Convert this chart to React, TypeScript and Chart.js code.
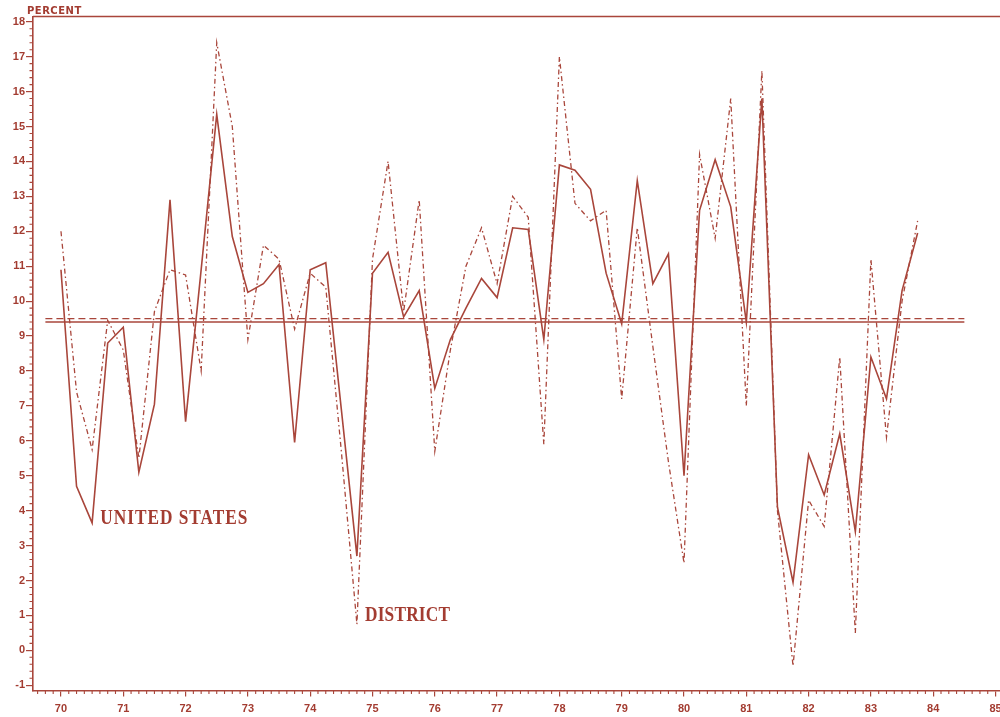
import React, { useEffect, useRef } from "react";
import { Chart, registerables } from "chart.js";

Chart.register(...registerables);

// ---- data -------------------------------------------------------------
const START_YEAR = 70; // first quarter of 1970
const QUARTERS_PER_YEAR = 4;
const YEAR_TICKS = [70, 71, 72, 73, 74, 75, 76, 77, 78, 79, 80, 81, 82, 83, 84, 85];
const Y_TICKS = [-1, 0, 1, 2, 3, 4, 5, 6, 7, 8, 9, 10, 11, 12, 13, 14, 15, 16, 17, 18];

const US_VALUES = [
  10.9, 4.7, 3.65, 8.8, 9.25, 5.1, 7.05, 12.9, 6.55, 10.9, 15.35, 11.85, 10.25, 10.5,
  11.05, 5.95, 10.9, 11.1, 6.9, 2.7, 10.8, 11.4, 9.55, 10.3, 7.5, 8.9, 9.8, 10.65,
  10.1, 12.1, 12.05, 8.9, 13.9, 13.75, 13.2, 10.8, 9.35, 13.45, 10.5, 11.35, 5.0, 12.6,
  14.05, 12.7, 9.4, 15.8, 4.1, 1.95, 5.6, 4.45, 6.2, 3.4, 8.4, 7.2, 10.3, 11.95,
];

const DISTRICT_VALUES = [
  12.0, 7.4, 5.75, 9.45, 8.6, 5.5, 9.7, 10.9, 10.75, 8.0, 17.4, 15.0, 8.9, 11.6,
  11.2, 9.2, 10.8, 10.4, 5.7, 0.75, 11.2, 14.0, 9.7, 12.9, 5.7, 8.6, 11.0, 12.1,
  10.5, 13.0, 12.4, 5.9, 17.0, 12.8, 12.3, 12.6, 7.2, 12.1, 8.7, 5.4, 2.5, 14.2,
  11.8, 15.8, 7.0, 16.6, 4.0, -0.45, 4.3, 3.55, 8.4, 0.5, 11.2, 6.1, 10.0, 12.3,
];

const US_MEAN = 9.4;
const DISTRICT_MEAN = 9.5;
const MEAN_FROM_QUARTER = -1;
const MEAN_TO_QUARTER = 58;

const Y_TITLE = "PERCENT";
const US_LABEL = "UNITED STATES";
const DISTRICT_LABEL = "DISTRICT";
// label anchors in data units (year, percent)
const US_LABEL_AT = { x: 70.63, y: 3.62 };
const DISTRICT_LABEL_AT = { x: 74.88, y: 0.84 };

// ---- style ------------------------------------------------------------
const LINE = "#a9463b";
const TEXT = "#a33c31";

const qx = (i: number) => START_YEAR + i / QUARTERS_PER_YEAR;

const decorPlugin = {
  id: "decor",
  afterDraw(chart: any) {
    const { ctx, chartArea: a } = chart;
    const xs = chart.scales.x;
    const ys = chart.scales.y;
    ctx.save();
    ctx.strokeStyle = LINE;
    ctx.lineWidth = 1.4;
    ctx.beginPath();
    // top frame line
    ctx.moveTo(a.left, a.top);
    ctx.lineTo(a.right + 40, a.top);
    ctx.stroke();

    ctx.lineWidth = 1.1;
    ctx.beginPath();
    // minor y ticks every 0.2
    for (let k = -5; k <= 90; k++) {
      if (k % 5 === 0) continue;
      const py = ys.getPixelForValue(k / 5);
      if (py < a.top || py > a.bottom) continue;
      ctx.moveTo(a.left - 3.5, py);
      ctx.lineTo(a.left, py);
    }
    // minor x ticks every 1/8 year
    for (let k = 69 * 8; k <= 87 * 8; k++) {
      if (k % 8 === 0) continue;
      const v = k / 8;
      if (v < xs.min || v > xs.max) continue;
      const px = xs.getPixelForValue(v);
      ctx.moveTo(px, a.bottom);
      ctx.lineTo(px, a.bottom + 3.5);
    }
    ctx.stroke();

    // axis title
    ctx.fillStyle = TEXT;
    ctx.font = "bold 10px 'DejaVu Sans'";
    (ctx as any).letterSpacing = "0.5px";
    ctx.textAlign = "left";
    ctx.textBaseline = "alphabetic";
    ctx.fillText(Y_TITLE, 27, 14);
    (ctx as any).letterSpacing = "0px";

    // series labels
    const drawLabel = (text: string, at: { x: number; y: number }, spacing: string) => {
      ctx.save();
      ctx.translate(xs.getPixelForValue(at.x), ys.getPixelForValue(at.y));
      ctx.scale(1, 1.2);
      ctx.font = "bold 17.3px 'Liberation Serif'";
      (ctx as any).letterSpacing = spacing;
      ctx.fillStyle = TEXT;
      ctx.fillText(text, 0, 0);
      ctx.restore();
    };
    drawLabel(US_LABEL, US_LABEL_AT, "1px");
    drawLabel(DISTRICT_LABEL, DISTRICT_LABEL_AT, "0.2px");
    ctx.restore();
  },
};

const bgPlugin = {
  id: "bg",
  beforeDraw(chart: any) {
    const { ctx, width, height } = chart;
    ctx.save();
    ctx.fillStyle = "#ffffff";
    ctx.fillRect(0, 0, width, height);
    ctx.restore();
  },
};

export default function App() {
  const ref = useRef<HTMLCanvasElement | null>(null);

  useEffect(() => {
    if (!ref.current) return;
    const tickFont = { family: "'Liberation Sans'", weight: "bold" as const, size: 11 };
    const chart = new Chart(ref.current, {
      type: "line",
      data: {
        datasets: [
          {
            label: "United States mean",
            data: [
              { x: qx(MEAN_FROM_QUARTER), y: US_MEAN },
              { x: qx(MEAN_TO_QUARTER), y: US_MEAN },
            ],
            borderColor: LINE,
            borderWidth: 1.5,
            pointRadius: 0,
          },
          {
            label: "District mean",
            data: [
              { x: qx(MEAN_FROM_QUARTER), y: DISTRICT_MEAN },
              { x: qx(MEAN_TO_QUARTER), y: DISTRICT_MEAN },
            ],
            borderColor: LINE,
            borderWidth: 1.2,
            borderDash: [7, 4],
            pointRadius: 0,
          },
          {
            label: "District",
            data: DISTRICT_VALUES.map((v, i) => ({ x: qx(i), y: v })),
            borderColor: LINE,
            borderWidth: 1.3,
            borderDash: [5, 3, 1.5, 3],
            pointRadius: 0,
            tension: 0,
          },
          {
            label: "United States",
            data: US_VALUES.map((v, i) => ({ x: qx(i), y: v })),
            borderColor: LINE,
            borderWidth: 1.6,
            pointRadius: 0,
            tension: 0,
          },
        ],
      },
      options: {
        responsive: false,
        animation: false,
        devicePixelRatio: 1,
        layout: { padding: { left: 0, top: 16.5, right: 20, bottom: 0 } },
        plugins: { legend: { display: false }, tooltip: { enabled: false } },
        events: [],
        scales: {
          x: {
            type: "linear",
            min: 69.551,
            max: 85.714,
            afterBuildTicks: (s: any) => {
              s.ticks = YEAR_TICKS.map((v) => ({ value: v }));
            },
            afterFit: (s: any) => {
              s.height = 26.5;
            },
            ticks: {
              color: TEXT,
              font: tickFont,
              padding: 6,
              maxRotation: 0,
              autoSkip: false,
              callback: (v: any) => String(v),
            },
            grid: { drawOnChartArea: false, tickLength: 6, color: LINE, lineWidth: 1.2 },
            border: { color: LINE, width: 1.6 },
          },
          y: {
            type: "linear",
            min: -1.15,
            max: 18.15,
            afterBuildTicks: (s: any) => {
              s.ticks = Y_TICKS.map((v) => ({ value: v }));
            },
            afterFit: (s: any) => {
              s.width = 33;
            },
            ticks: {
              color: TEXT,
              font: tickFont,
              padding: 1,
              autoSkip: false,
              callback: (v: any) => String(v),
            },
            grid: { drawOnChartArea: false, tickLength: 7, color: LINE, lineWidth: 1.2 },
            border: { color: LINE, width: 1.6 },
          },
        },
      },
      plugins: [bgPlugin, decorPlugin],
    });
    return () => chart.destroy();
  }, []);

  return (
    <div
      style={{
        position: "fixed",
        left: 0,
        top: 0,
        width: 1000,
        height: 717,
        overflow: "hidden",
        background: "#ffffff",
      }}
    >
      <canvas ref={ref} width={1060} height={717} style={{ display: "block", width: 1060, height: 717 }} />
    </div>
  );
}
